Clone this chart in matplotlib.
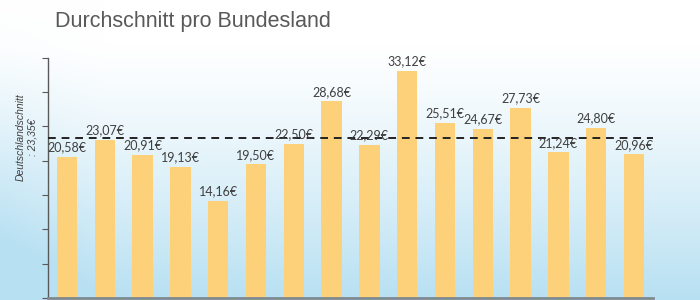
import numpy as np
import matplotlib
matplotlib.use("Agg")
import matplotlib.pyplot as plt

# Durchschnitt je Bundesland in Euro
values = [20.58, 23.07, 20.91, 19.13, 14.16, 19.50, 22.50, 28.68,
          22.29, 33.12, 25.51, 24.67, 27.73, 21.24, 24.80, 20.96]
average = 23.35
title = "Durchschnitt pro Bundesland"

fig = plt.figure(figsize=(7, 3), dpi=100)

# hellblauer Verlauf als Hintergrund
bg = fig.add_axes([0, 0, 1, 1], zorder=-1)
yy, xx = np.mgrid[0:1:300j, 0:1:700j]
t = np.clip((yy - 0.15) / 0.85, 0, 1) ** 1.2
t = np.clip(t + 0.35 * np.clip(0.15 - xx, 0, 1) / 0.15 * yy, 0, 1)
white = np.array([1.0, 1.0, 1.0])
blue = np.array([0.72, 0.88, 0.95])
img = white[None, None, :] * (1 - t[..., None]) + blue[None, None, :] * t[..., None]
bg.imshow(img, aspect="auto", extent=[0, 1, 0, 1], origin="upper")
bg.axis("off")

ax = fig.add_axes([0.0686, 0.007, 0.864, 0.80])
ax.set_facecolor("none")
x = np.arange(len(values))
ax.bar(x, values, width=0.54, color="#FDD17A", zorder=2)
ax.axhline(average, color="#222222", linestyle=(0, (4, 3)), linewidth=1.4, zorder=3)

for xi, v in zip(x, values):
    ax.text(xi, v + 0.5, f"{v:.2f}€".replace(".", ","), ha="center", va="bottom",
            fontsize=9, color="#404040", family="Lato", zorder=4)

ax.set_xlim(-0.5, 15.5)
ax.set_ylim(0, 35)
ax.set_yticks(np.arange(0, 36, 5))
ax.set_yticklabels([])
ax.set_xticks([])
ax.tick_params(axis="y", length=4, color="#595959", direction="out")
for s in ["top", "right"]:
    ax.spines[s].set_visible(False)
ax.spines["left"].set_color("#595959")
ax.spines["left"].set_linewidth(1)
ax.spines["bottom"].set_color("#7f8a90")
ax.spines["bottom"].set_linewidth(2)

ax.set_ylabel("Deutschlandschnitt\n: 23,35€", fontsize=7.5, style="italic",
              color="#404040", family="Liberation Sans")
ax.yaxis.set_label_coords(-0.018, 0.67)

fig.text(0.079, 0.93, title, fontsize=15.5, color="#595959",
         family="Liberation Sans", ha="left", va="center")

fig.savefig("out.png", dpi=100)
